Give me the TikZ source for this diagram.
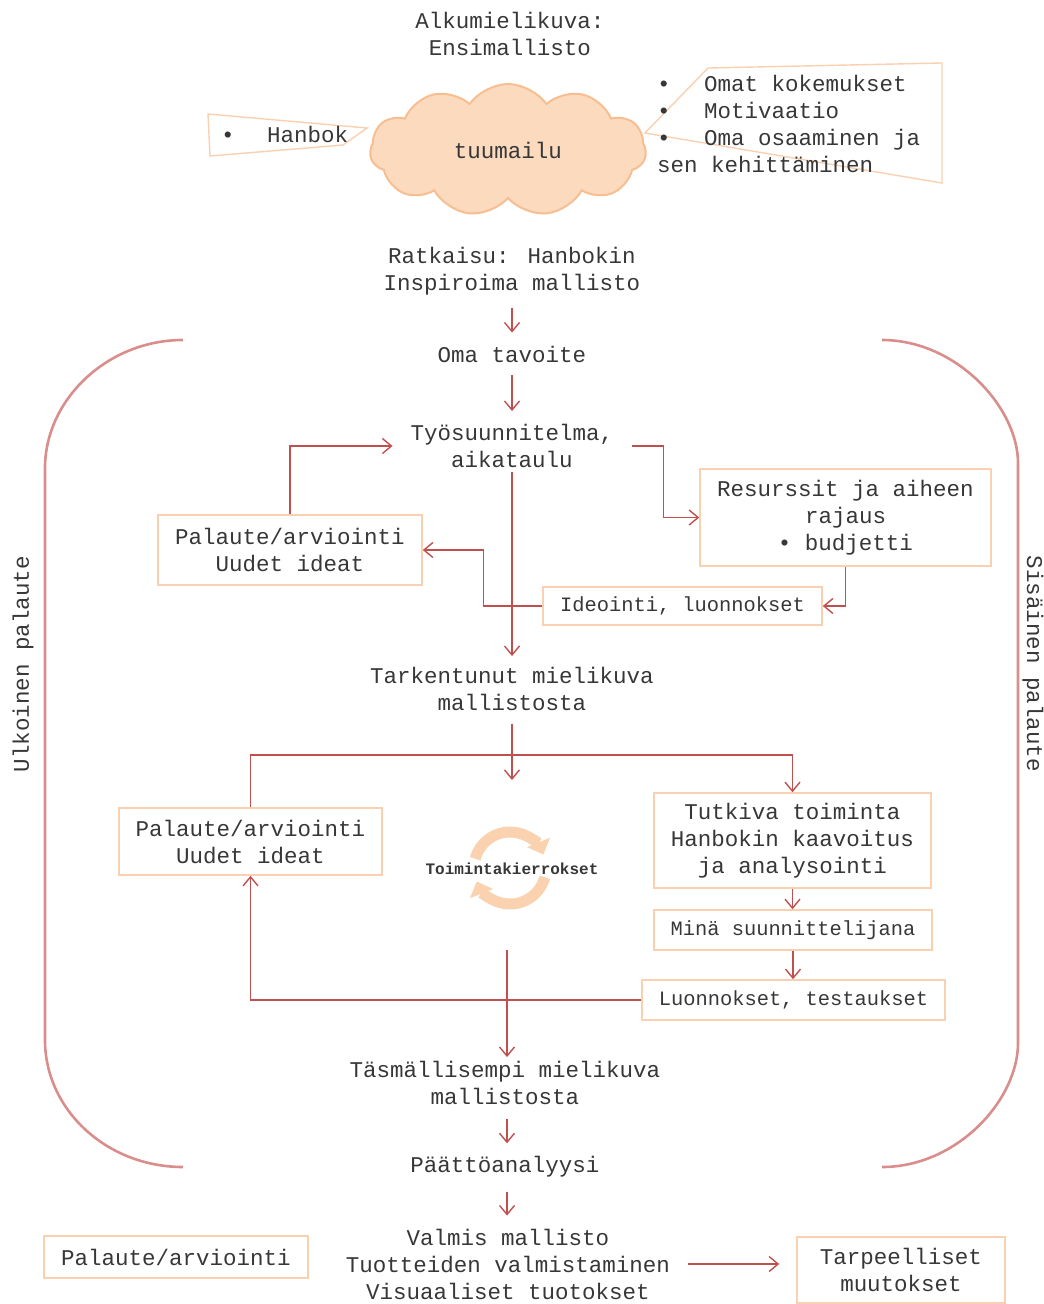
\documentclass[tikz,border=0pt]{standalone}
\usepackage{fontspec}
\setmainfont{Liberation Mono}
\usetikzlibrary{arrows.meta,shapes.symbols,calc}
\definecolor{arrc}{RGB}{192,80,77}
\definecolor{brc}{RGB}{217,142,140}
\definecolor{boxc}{RGB}{250,208,176}
\definecolor{txtc}{RGB}{55,55,55}
\definecolor{cloudf}{RGB}{252,218,190}
\definecolor{cloudd}{RGB}{247,190,145}
\definecolor{cycc}{RGB}{250,210,175}
\newcommand{\bigf}{\fontsize{22.5}{27}\selectfont}
\newcommand{\smallf}{\fontsize{20.4}{24}\selectfont}
\newcommand{\tinyf}{\fontsize{16}{19}\selectfont}
\begin{document}
\begin{tikzpicture}[x=1pt,y=-1pt,
 txt/.style={font=\bigf, text=txtc, align=center, inner sep=4pt},
 box/.style={txt, draw=boxc, line width=1.6pt, inner sep=0pt},
 arr/.style={draw=arrc, line width=1.4pt, -{Straight Barb[length=9pt,width=15pt]}},
 brk/.style={draw=brc, line width=2.6pt},
 callout/.style={draw=boxc, line width=1.4pt},
 cyc/.style={draw=cycc, line width=11pt, -{Triangle[length=13pt,width=24pt]}},
]
\useasboundingbox (0,0) rectangle (1044,1304);

% brackets
\draw[brk] (183,340) .. controls (107,340) and (45,400) .. (45,468) -- (45,1040) .. controls (45,1110) and (107,1167) .. (183,1167);
\draw[brk] (882,340) .. controls (957,340) and (1018,408) .. (1018,463) -- (1018,1043) .. controls (1018,1100) and (957,1167) .. (882,1167);
\node[txt, rotate=90] (ulk) at (23,664) {Ulkoinen palaute};
\node[txt, rotate=-90] (sis) at (1033,664) {Sisäinen palaute};

% top
\node[txt] (title) at (510,34) {Alkumielikuva:\\Ensimallisto};
\node[cloud, cloud puffs=11, cloud puff arc=110, aspect=2.1, draw=cloudd, fill=cloudf, line width=2pt, minimum width=276pt, minimum height=132pt, font=\bigf, text=txtc] (cloud) at (508,150) {tuumailu};
\draw[callout] (208,114) -- (367,128) -- (343,145) -- (210,156) -- cycle;
\node[txt, anchor=west, inner sep=0pt] (hanbok) at (221,134) {\makebox[46pt][l]{•}Hanbok};
\draw[callout] (708,68) -- (942,63) -- (942,183) -- (645,133) -- cycle;
\node[txt, align=left, anchor=west, inner sep=0pt] (own) at (657,124) {\makebox[47pt][l]{•}Omat kokemukset\\\makebox[47pt][l]{•}Motivaatio\\\makebox[47pt][l]{•}Oma osaaminen ja\\sen kehittäminen};

% main flow
\node[txt] (ratk) at (512,271) {Ratkaisu: Hanbokin\\Inspiroima mallisto};
\node[txt] (oma) at (512,354) {Oma tavoite};
\node[txt] (tyo) at (512,446) {Työsuunnitelma,\\aikataulu};
\node[txt] (tark) at (512,689) {Tarkentunut mielikuva\\mallistosta};
\node[txt] (tasm) at (505,1083) {Täsmällisempi mielikuva\\mallistosta};
\node[txt] (paat) at (505,1167) {Päättöanalyysi};
\node[txt] (valm) at (508,1264) {Valmis mallisto\\Tuotteiden valmistaminen\\Visuaaliset tuotokset};

% boxes
\node[box, minimum width=264, minimum height=70] (p1) at (290,550) {Palaute/arviointi\\Uudet ideat};
\node[box, minimum width=291, minimum height=97] (res) at (845.5,517.5) {Resurssit ja aiheen\\rajaus\\• budjetti};
\node[box, font=\smallf, minimum width=279, minimum height=38] (ide) at (682.5,606) {Ideointi, luonnokset};
\node[box, minimum width=263, minimum height=67] (p2) at (250.5,841.5) {Palaute/arviointi\\Uudet ideat};
\node[box, minimum width=277, minimum height=95] (tut) at (792.5,840.5) {Tutkiva toiminta\\Hanbokin kaavoitus\\ja analysointi};
\node[box, font=\smallf, minimum width=278, minimum height=40] (mina) at (793,930) {Minä suunnittelijana};
\node[box, font=\smallf, minimum width=303, minimum height=40] (luo) at (793.5,1000) {Luonnokset, testaukset};
\node[box, minimum width=264, minimum height=42] (pal) at (176,1257) {Palaute/arviointi};
\node[box, minimum width=208, minimum height=66] (tarp) at (901,1270) {Tarpeelliset\\muutokset};

% cycle icon
\draw[cyc] (510,868) ++(-165:36) arc[start angle=-165, end angle=-22, radius=36];
\draw[cyc] (510,868) ++(15:36) arc[start angle=15, end angle=158, radius=36];
\node[txt, font=\tinyf\bfseries, inner sep=0pt] (cycl) at (512,869) {Toimintakierrokset};

% connectors
\coordinate (cyctop) at (512,780);
\coordinate (cycbot) at (507,950);
\coordinate (hl) at (0,755);
\draw[arr, shorten <=9pt, shorten >=9pt] (ratk) -- (oma);
\draw[arr, shorten <=9pt, shorten >=9pt] (oma) -- (tyo);
\draw[arr, shorten >=7pt] (tyo) -- (tark);
\draw[arr, shorten <=9pt] (tark) -- (cyctop);
\draw[arr, shorten >=14pt] (p1.north) |- (tyo.west);
\draw[arr, shorten <=15pt] (tyo.east) -- ++(46,0) |- (res.west);
\draw[arr] (res.south) |- (ide.east);
\draw[arr] (ide.west) -- ++(-59,0) |- (p1.east);
\draw[arr] (p2.north) |- (hl -| tut.north) -- (tut.north);
\draw[arr] (tut.south) -- (tut.south |- mina.north);
\draw[arr] (mina.south) -- (mina.south |- luo.north);
\draw[arr] (luo.west) -| (p2.south);
\draw[arr] (cycbot) -- (cycbot |- tasm.north);
\draw[arr, shorten <=10pt, shorten >=9pt] (tasm.south -| cycbot) -- (paat.north -| cycbot);
\draw[arr, shorten <=10pt, shorten >=9pt] (paat.south -| cycbot) -- (valm.north -| cycbot);
\draw[arr, shorten <=14pt, shorten >=17pt] (valm.east) -- (valm.east -| tarp.west);
\end{tikzpicture}
\end{document}
